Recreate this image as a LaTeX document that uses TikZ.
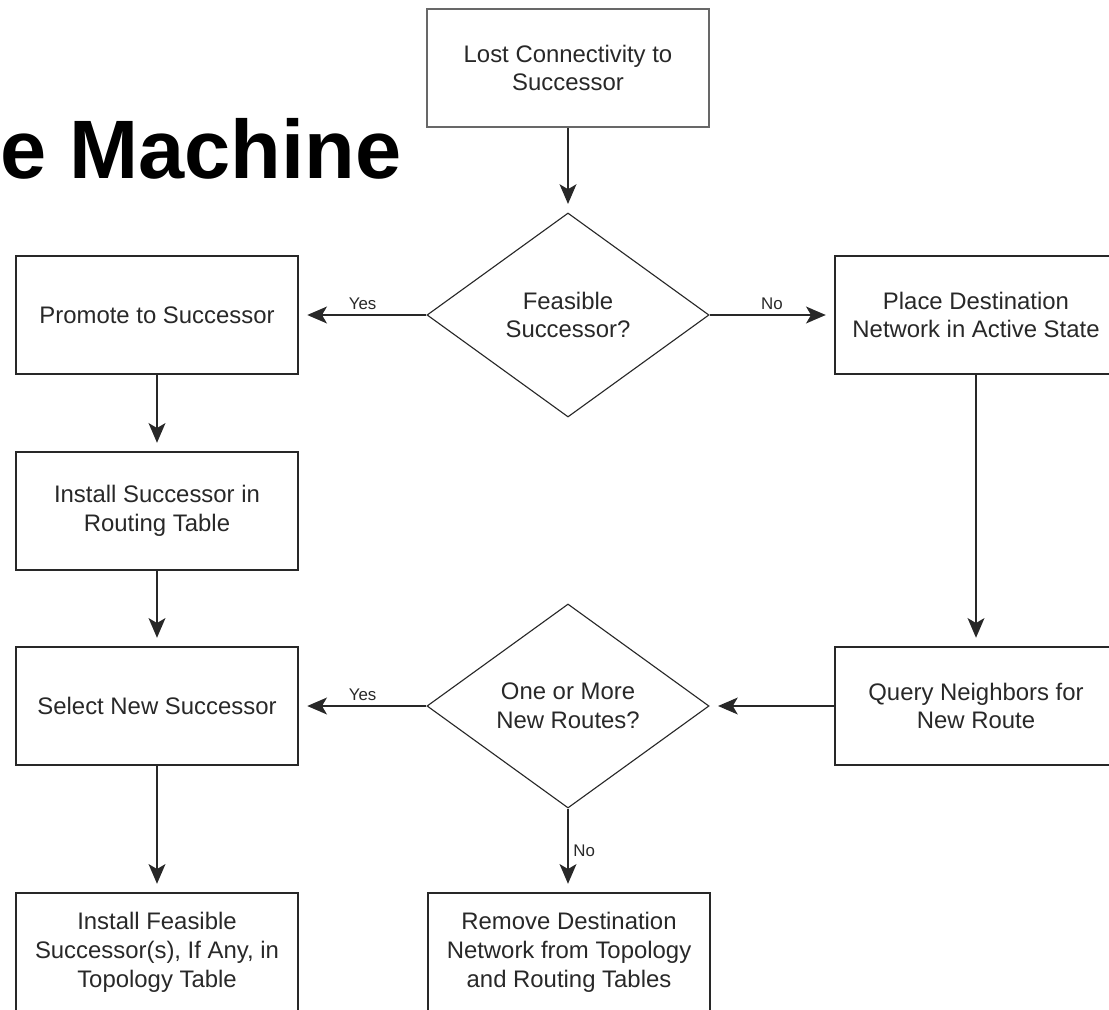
\documentclass[tikz,border=0pt]{standalone}
\usepackage{fontspec}
\setmainfont{Liberation Sans}
\usepackage{tikz}
\usetikzlibrary{arrows.meta,shapes.geometric}
\usepackage{xcolor}
\definecolor{flowgray}{RGB}{40,40,40}
\tikzstyle{stepbox} = [draw=flowgray, line width=1.1pt, minimum width=7.05cm, minimum height=2.95cm, align=center, text=flowgray, font=\fontsize{17}{20.5}\selectfont]
\tikzstyle{decision} = [diamond, draw=flowgray, line width=0.8pt, minimum width=7.05cm, minimum height=5.1cm, inner sep=0pt, align=center, text=flowgray, font=\fontsize{17}{20.5}\selectfont]
\tikzstyle{arrow} = [line width=1pt, draw=flowgray, -{Stealth[length=14pt,width=12pt,inset=3.5pt]}, shorten >=6pt]
\tikzstyle{answer} = [text=flowgray, font=\fontsize{12}{14}\selectfont]

\begin{document}
\begin{tikzpicture}[x=0.025cm, y=-0.025cm]
\useasboundingbox (0,0) rectangle (1109,1010);

% Heading
\node[anchor=base west, inner sep=0pt, font=\fontsize{59}{62}\selectfont\bfseries] (title) at (0,179) {e Machine};

% Middle column
\node[stepbox, draw=flowgray!70] (lost) at (568,68) {Lost Connectivity to\\Successor};
\node[decision] (feasible) at (568,315) {Feasible\\Successor?};
\node[decision] (newroutes) at (568,706) {One or More\\New Routes?};
\node[stepbox] (remove) at (569,952) {Remove Destination\\Network from Topology\\and Routing Tables};

% Left column
\node[stepbox] (promote) at (157,315) {Promote to Successor};
\node[stepbox] (install) at (157,511) {Install Successor in\\Routing Table};
\node[stepbox] (select) at (157,706) {Select New Successor};
\node[stepbox] (installfs) at (157,952) {Install Feasible\\Successor(s), If Any, in\\Topology Table};

% Right column
\node[stepbox] (place) at (976,315) {Place Destination\\Network in Active State};
\node[stepbox] (query) at (976,706) {Query Neighbors for\\New Route};

% Connectors
\draw[arrow] (lost) -- (feasible);
\draw[arrow] (feasible) -- node[answer, above] {Yes} (promote);
\draw[arrow] (feasible) -- node[answer, above] {No} (place);
\draw[arrow] (promote) -- (install);
\draw[arrow] (install) -- (select);
\draw[arrow] (select) -- (installfs);
\draw[arrow] (place) -- (query);
\draw[arrow] (query) -- (newroutes);
\draw[arrow] (newroutes) -- node[answer, above] {Yes} (select);
\draw[arrow] (newroutes.south) -- node[answer, right] {No} (newroutes.south |- remove.north);
\end{tikzpicture}
\end{document}
